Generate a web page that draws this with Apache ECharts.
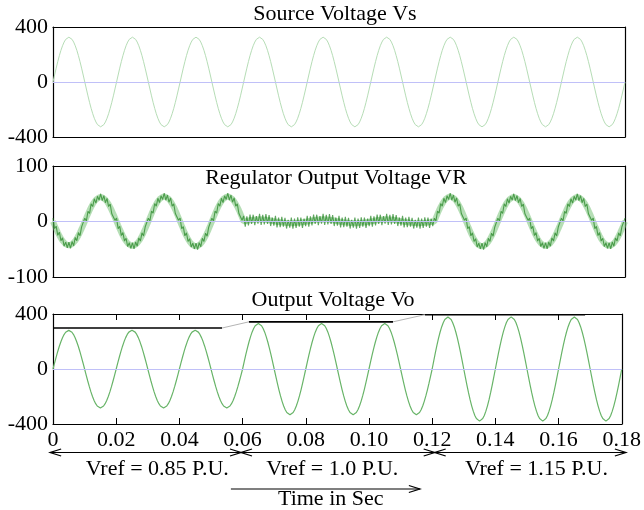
<!DOCTYPE html>
<html>
<head>
<meta charset="utf-8">
<script src="https://cdn.jsdelivr.net/npm/echarts@6/dist/echarts.min.js"></script>
<style>
html,body{margin:0;padding:0;background:#fff;}
#c{width:644px;height:510px;}
</style>
</head>
<body>
<div id="c"></div>
<script>
// ---------- data ----------
const T_STEP = 0.0005;                 // sample spacing (s); 20 samples per half cycle
const xTickLabels = ['0','0.02','0.04','0.06','0.08','0.10','0.12','0.14','0.16','0.18'];
const titles = ['Source Voltage Vs', 'Regulator Output Voltage VR', 'Output Voltage Vo'];
// one half-cycle waveform shape (normalised)
const halfShape = [0,0.156,0.309,0.454,0.588,0.707,0.809,0.891,0.951,0.988,1,0.988,0.951,0.891,0.809,0.707,0.588,0.454,0.309,0.156];
// peak of every half-cycle (18 half cycles = 0 .. 0.18 s)
const vsPeaks = [326,-326,326,-326,326,-326,326,-326,326,-326,326,-326,326,-326,326,-326,326,-326];
const vrPeaks = [-43,44,-44,45,-45,45, 4,-3,4,-3,4,-3, 45,-45,44,-44,44,-44];
const voPeaks = [281,-283,282,-283,282,-283, 331,-333,331,-333,331,-333, 378,-379,379,-379,378,-379];
// switching ripple of VR: amplitude per half cycle and stroke pattern
const vrRipple = [6,6,6,6,6,6, 10,10,10,10,10,10, 6,6,6,6,6,6];
const ripplePattern = [1,-1,0.8,-0.9,1,-0.7,0.9,-1,0.6,-0.8];
// reference levels drawn over Vo
const refX = [0, 0.0535, 0.062, 0.1076, 0.1177, 0.1684];
const refY = [298, 298, 343, 343, 395, 395];
// Vref annotation
const vrefBounds = [-0.0009, 0.0595, 0.1208, 0.1813];
const vrefLabels = ['Vref = 0.85 P.U.', 'Vref = 1.0 P.U.', 'Vref = 1.15 P.U.'];
const vrefLabelX = [0.033, 0.0884, 0.153];
const timeArrow = [0.0563, 0.1161];
const timeLabel = 'Time in Sec';

// ---------- build ----------
function buildWave(peaks, ripple){
  const out = [];
  const n = peaks.length * halfShape.length;
  for (let i = 0; i <= n; i++){
    const h = Math.floor(i / halfShape.length), k = i % halfShape.length;
    const base = h < peaks.length ? peaks[h] * halfShape[k] : 0;
    const r = ripple ? ripple[Math.min(h, ripple.length-1)] * ripplePattern[i % ripplePattern.length] : 0;
    out.push([+(i*T_STEP).toFixed(5), base + r]);
  }
  return out;
}
const FONT = 'Liberation Serif';
const grids = [
  {left:53, width:572, top:27, height:110},
  {left:53, width:572, top:166, height:111},
  {left:53, width:572, top:314, height:110}
];
const yRanges = [[-400,400,400],[-100,100,100],[-400,400,400]];

const xAxes = [], yAxes = [];
grids.forEach((g, i) => {
  const isLast = i === 2;
  const xBase = {gridIndex:i, type:'value', min:0, max:0.18, interval:0.02,
    axisLine:{show:true, onZero:false, lineStyle:{color:'#000', width:1.2}},
    axisTick:{show:isLast, inside:true, length:6, lineStyle:{color:'#000'}},
    splitLine:{show:false}};
  xAxes.push(Object.assign({}, xBase, {position:'bottom',
    axisLabel:{show:isLast, margin:5, color:'#000', fontFamily:FONT, fontSize:22,
      formatter: v => xTickLabels[Math.round(v/0.02)]}}));
  xAxes.push(Object.assign({}, xBase, {position:'top', axisLabel:{show:false}}));
  const yr = yRanges[i];
  const yBase = {gridIndex:i, type:'value', min:yr[0], max:yr[1], interval:yr[2],
    axisLine:{show:true, onZero:false, lineStyle:{color:'#000', width:1.2}},
    axisTick:{show:true, inside:true, length:7, lineStyle:{color:'#000'}},
    splitLine:{show:false}};
  yAxes.push(Object.assign({}, yBase, {position:'left',
    axisLabel:{show:true, margin:5, color:'#000', fontFamily:FONT, fontSize:22}}));
  yAxes.push(Object.assign({}, yBase, {position:'right', axisLabel:{show:false}}));
});

const zeroLine = {silent:true, symbol:'none', label:{show:false},
  lineStyle:{color:'#c0c0f8', width:1, type:'solid'}, data:[{yAxis:0}]};

const refBlack = [], refGray = [];
for (let i = 0; i < refX.length; i += 2){
  refBlack.push([refX[i], refY[i]], [refX[i+1], refY[i+1]], [null, null]);
  if (i + 2 < refX.length) refGray.push([refX[i+1], refY[i+1]], [refX[i+2], refY[i+2]], [null, null]);
}

const series = [
  {type:'line', xAxisIndex:0, yAxisIndex:0, data:buildWave(vsPeaks), showSymbol:false,
   lineStyle:{color:'#b6ddb6', width:1}, markLine:zeroLine, z:3},
  {type:'line', xAxisIndex:2, yAxisIndex:2, data:buildWave(vrPeaks), showSymbol:false,
   lineStyle:{color:'rgba(120,195,120,0.55)', width:6}, markLine:zeroLine, z:2},
  {type:'line', xAxisIndex:2, yAxisIndex:2, data:buildWave(vrPeaks, vrRipple), showSymbol:false,
   lineStyle:{color:'rgba(30,130,30,0.7)', width:1.1}, z:3},
  {type:'line', xAxisIndex:4, yAxisIndex:4, data:buildWave(voPeaks), showSymbol:false,
   lineStyle:{color:'#68b468', width:1.2}, markLine:zeroLine, z:3},
  {type:'line', xAxisIndex:4, yAxisIndex:4, data:refBlack, showSymbol:false, connectNulls:false,
   lineStyle:{color:'#000', width:1.6}, z:4, clip:false},
  {type:'line', xAxisIndex:4, yAxisIndex:4, data:refGray, showSymbol:false, connectNulls:false,
   lineStyle:{color:'#b4b4b4', width:1}, z:4, clip:false}
];

const chart = echarts.init(document.getElementById('c'), null, {renderer:'canvas'});
chart.setOption({animation:false, backgroundColor:'#fff', grid:grids, xAxis:xAxes, yAxis:yAxes, series:series});

// ---------- annotations ----------
const px = t => chart.convertToPixel({xAxisIndex:4}, t);
const g = [];
const txt = (x, y, s) => g.push({type:'text', x:x, y:y, z:10,
  style:{text:s, fill:'#000', font:'22px "' + FONT + '"', textAlign:'center', textVerticalAlign:'middle'}});
const line = (pts, w) => g.push({type:'polyline', z:10, shape:{points:pts}, style:{stroke:'#000', lineWidth:w||1.2, fill:null}});
const head = (x, y, dir) => line([[x - dir*11, y - 3.5], [x, y], [x - dir*11, y + 3.5]], 1.3);

const titleX = [335, 336, 333], titleY = [14, 178, 300];
titles.forEach((t, i) => txt(titleX[i], titleY[i], t));

const AY = 452.5;
for (let i = 0; i < 3; i++){
  const a = px(vrefBounds[i]), b = px(vrefBounds[i+1]);
  line([[a, AY], [b, AY]]);
  head(a, AY, -1); head(b, AY, 1);
  txt(px(vrefLabelX[i]), 469, vrefLabels[i]);
}
const ta = px(timeArrow[0]), tb = px(timeArrow[1]);
line([[ta, 489], [tb, 489]]);
head(tb, 489, 1);
txt(px((timeArrow[0]+timeArrow[1])/2 + 0.0017), 499, timeLabel);

chart.setOption({graphic:g});
</script>
</body>
</html>
